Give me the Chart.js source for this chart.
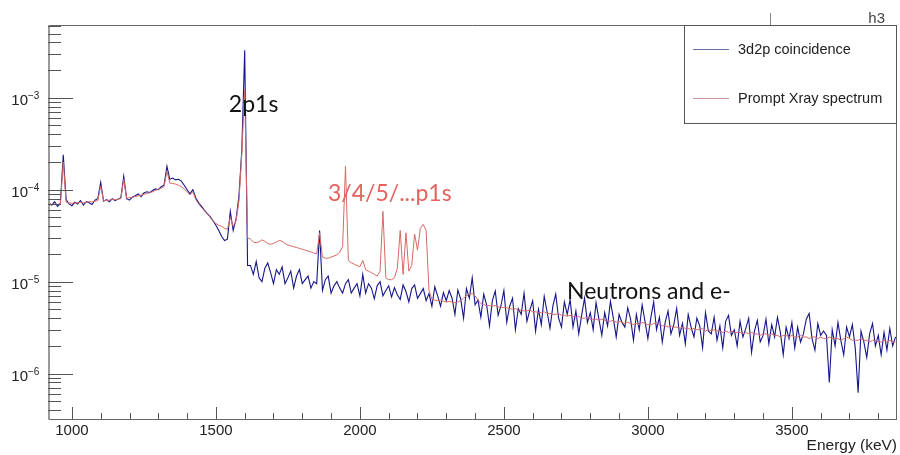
<!DOCTYPE html>
<html>
<head>
<meta charset="utf-8">
<title>3d2p coincidence vs prompt X-ray spectrum</title>
<script src="https://cdn.jsdelivr.net/npm/chart.js@4.4.1/dist/chart.umd.min.js"></script>
<style>
  html, body { margin: 0; padding: 0; background: #fff; }
  #wrap { width: 900px; height: 455px; }
</style>
</head>
<body>
<div id="wrap"><canvas id="spectrum" width="900" height="455"></canvas></div>
<script>
// histogram binning (keV, bin centres)
const binStart = 920;
const binWidth = 10;

// 3d2p coincidence, counts in units of 1e-6
const coincidence = [
  72, 68, 74, 66, 71, 240, 78, 70, 67, 73,            // 920-1010
  70, 76, 68, 74, 72, 69, 77, 80, 120, 75,            // 1020-1110
  78, 74, 80, 76, 79, 82, 140, 80, 77, 83,            // 1120-1210
  86, 90, 84, 92, 95, 93, 98, 102, 100, 108,          // 1220-1310
  112, 180, 130, 134, 128, 130, 124, 112, 100, 90,    // 1320-1410
  100, 82, 72, 66, 60, 55, 51, 46, 41, 36,            // 1420-1510
  31, 28, 29, 58, 36, 48, 85, 270, 3300, 15,          // 1520-1610
  15, 12, 16.5, 11, 10, 14, 16, 12.5, 9.5, 13.5,      // 1620-1710
  12, 14.5, 9.5, 11, 13, 8.5, 11.5, 13.5, 9.5, 10.5,  // 1720-1810
  11.5, 8.5, 10, 9.5, 36, 8, 10.5, 11.5, 7.5, 9,      // 1820-1910
  10, 8.5, 7.5, 9.5, 10.5, 7.5, 8.5, 9.5, 7, 12,      // 1920-2010
  7.5, 9.5, 8.5, 6.5, 9, 10, 7, 8, 9, 6.8,            // 2020-2110
  8.6, 7.2, 6.4, 9.2, 7.8, 6, 8.4, 9.2, 6.6, 7.4,     // 2120-2210
  8.4, 6.2, 7.4, 5.4, 8.8, 7.0, 5.4, 7.6, 6.2, 8.0,   // 2220-2310
  6.6, 4.4, 8.1, 6.5, 4.0, 8.4, 6.6, 11.0, 5.6, 6.3,  // 2320-2410
  4.1, 7.3, 5.6, 3.3, 6.2, 7.9, 4.3, 5.5, 8.0, 3.6,   // 2420-2510
  5.4, 6.6, 3.0, 5.1, 4.4, 7.5, 3.7, 4.9, 6.2, 2.9,   // 2520-2610
  5.0, 3.4, 6.9, 4.7, 3.1, 5.4, 7.3, 4.0, 3.2, 6.0,   // 2620-2710
  4.4, 6.4, 3.2, 4.8, 2.7, 4.3, 6.6, 3.6, 4.6, 3.0,   // 2720-2810
  5.9, 3.9, 2.6, 4.6, 3.3, 6.1, 4.0, 2.5, 4.4, 3.6,   // 2820-2910
  3.2, 5.2, 3.9, 2.3, 4.4, 3.0, 5.6, 3.7, 2.4, 4.0,   // 2920-3010
  6.0, 3.0, 4.1, 2.2, 3.6, 4.8, 2.7, 3.4, 5.1, 2.6,   // 3020-3110
  3.5, 2.1, 4.4, 3.2, 2.5, 4.0, 3.3, 1.9, 4.6, 2.9,   // 3120-3210
  2.7, 4.1, 2.3, 3.3, 1.9, 3.7, 4.3, 2.6, 3.0, 2.0,   // 3220-3310
  3.7, 2.5, 3.1, 4.0, 1.7, 2.9, 3.8, 2.2, 2.6, 3.9,   // 3320-3410
  2.1, 3.4, 2.5, 4.1, 2.8, 1.6, 3.2, 2.4, 3.6, 1.9,   // 3420-3510
  3.2, 2.2, 2.7, 3.9, 4.5, 2.4, 1.8, 3.5, 2.6, 2.9,   // 3520-3610
  2.6, 0.8, 3.0, 2.0, 3.6, 2.3, 1.6, 3.2, 2.5, 3.4,   // 3620-3710
  1.9, 0.62, 2.9, 2.2, 1.5, 2.7, 3.5, 2.0, 2.6, 1.6,  // 3720-3810
  2.8, 1.8, 3.1, 2.0, 2.5                             // 3820-3860
];

// prompt X-ray spectrum, same units
const promptXray = [
  69, 68, 70, 69, 70, 200, 73, 72, 71, 72,            // 920-1010
  72, 73, 72, 73, 74, 74, 75, 76, 110, 76,            // 1020-1110
  77, 77, 78, 78, 79, 80, 130, 81, 82, 83,            // 1120-1210
  84, 86, 87, 89, 91, 93, 95, 98, 101, 104,           // 1220-1310
  108, 160, 118, 117, 115, 112, 108, 102, 95, 88,     // 1320-1410
  95, 78, 70, 64, 59, 55, 50, 46, 43, 41,             // 1420-1510
  40, 38, 37, 50, 40, 46, 75, 250, 1200, 30,          // 1520-1610
  29, 27, 26.5, 27, 28.5, 27.5, 26, 25.5, 26, 27,     // 1620-1710
  28, 27.5, 26, 25, 24.5, 24, 23.5, 23, 22.5, 22,     // 1720-1810
  21.5, 21, 20.5, 20, 34, 18.5, 18, 18, 18.5, 19,     // 1820-1910
  19.5, 21, 24, 180, 17, 16, 15.5, 15, 14.5, 17,      // 1920-2010
  13.5, 13, 12.5, 12, 11.5, 13, 58, 11, 10.5, 10.5,   // 2020-2110
  11, 14, 36, 12, 34, 13, 15, 33, 22, 38,             // 2120-2210
  42, 36, 8, 6.4, 6.3, 6.2, 6.3, 6.1, 6.0, 6.1,       // 2220-2310
  6.0, 5.9, 6.0, 6.2, 6.6, 7.0, 7.3, 7.4, 7.0, 6.3,   // 2320-2410
  5.8, 5.6, 5.5, 5.5, 5.4, 5.5, 5.3, 5.3, 5.2, 5.2,   // 2420-2510
  5.1, 5.0, 5.1, 4.9, 4.9, 4.8, 4.8, 4.9, 4.7, 4.7,   // 2520-2610
  4.6, 4.6, 4.7, 4.5, 4.5, 4.4, 4.4, 4.5, 4.3, 4.3,   // 2620-2710
  4.2, 4.3, 4.2, 4.1, 4.2, 4.0, 4.0, 4.1, 3.9, 3.9,   // 2720-2810
  3.9, 3.8, 3.9, 3.8, 3.7, 3.7, 3.8, 3.6, 3.7, 3.6,   // 2820-2910
  3.5, 3.6, 3.5, 3.4, 3.5, 3.4, 3.6, 3.5, 3.4, 3.4,   // 2920-3010
  3.5, 3.6, 3.4, 3.3, 3.3, 3.2, 3.3, 3.2, 3.2, 3.1,   // 3020-3110
  3.2, 3.1, 3.1, 3.0, 3.1, 3.0, 3.0, 3.1, 2.9, 3.0,   // 3120-3210
  2.9, 3.0, 2.9, 2.9, 2.8, 2.9, 2.8, 2.9, 2.8, 2.8,   // 3220-3310
  2.8, 2.7, 2.8, 2.7, 2.8, 2.7, 2.7, 2.6, 2.7, 2.7,   // 3320-3410
  2.6, 2.7, 2.6, 2.6, 2.5, 2.6, 2.6, 2.5, 2.6, 2.5,   // 3420-3510
  2.5, 2.6, 2.5, 2.5, 2.4, 2.5, 2.5, 2.4, 2.5, 2.4,   // 3520-3610
  2.4, 2.5, 2.4, 2.4, 2.4, 2.3, 2.4, 2.5, 2.4, 2.3,   // 3620-3710
  2.3, 2.3, 2.4, 2.3, 2.3, 2.2, 2.3, 2.3, 2.2, 2.2,   // 3720-3810
  2.3, 2.2, 2.3, 2.2, 2.2                             // 3820-3860
];

// axis ticks
const xMajorTicks = [1000, 1500, 2000, 2500, 3000, 3500];
const xMinorTicks = [1000, 1100, 1200, 1300, 1400, 1500, 1600, 1700, 1800, 1900,
  2000, 2100, 2200, 2300, 2400, 2500, 2600, 2700, 2800, 2900,
  3000, 3100, 3200, 3300, 3400, 3500, 3600, 3700, 3800];
const yDecades = [1e-7, 1e-6, 1e-5, 1e-4, 1e-3];
const yLabelExponents = ['\u22126', '\u22125', '\u22124', '\u22123'];
const yLabelDecades = [1e-6, 1e-5, 1e-4, 1e-3];

// text annotations placed in data coordinates (keV, counts)
const notes = [
  { text: '2p1s', energy: 1545, value: 7.0e-4, color: '#111' },
  { text: '3/4/5/...p1s', energy: 1889, value: 7.6e-5, color: '#e5625e' },
  { text: 'Neutrons and e-', energy: 2719, value: 6.5e-6, color: '#111' }
];

const SANS = '"Liberation Sans", Arial, Helvetica, sans-serif';
const NOTE_FONT = 'Lato, "Open Sans", sans-serif';

function toPoints(values) {
  return values.map((v, i) => ({ x: binStart + i * binWidth, y: v * 1e-6 }));
}

const rootStyle = {
  id: 'rootStyle',
  afterDraw(chart) {
    const { ctx, chartArea: a, scales: { x, y } } = chart;
    ctx.save();

    // frame
    ctx.strokeStyle = '#666';
    ctx.lineWidth = 1;
    ctx.beginPath();
    ctx.moveTo(a.left, a.top + 0.5); ctx.lineTo(a.right, a.top + 0.5);
    ctx.moveTo(a.right - 0.5, a.top); ctx.lineTo(a.right - 0.5, a.bottom);
    ctx.moveTo(a.left, a.bottom + 0.5); ctx.lineTo(a.right, a.bottom + 0.5);
    ctx.stroke();
    ctx.strokeStyle = '#999';
    ctx.lineWidth = 2;
    ctx.beginPath();
    ctx.moveTo(a.left + 1, a.top); ctx.lineTo(a.left + 1, a.bottom + 1);
    ctx.stroke();

    // y ticks (inside)
    ctx.strokeStyle = '#555';
    ctx.lineWidth = 1;
    ctx.beginPath();
    yDecades.forEach(d => {
      for (let m = 1; m <= 9; m++) {
        const v = m * d;
        if (v < y.min || v > y.max) continue;
        const py = Math.round(y.getPixelForValue(v)) + 0.5;
        ctx.moveTo(a.left, py);
        ctx.lineTo(a.left + (m === 1 ? 25 : 13), py);
      }
    });
    // x ticks (inside)
    xMinorTicks.forEach(t => {
      const px = Math.round(x.getPixelForValue(t)) + 0.5;
      ctx.moveTo(px, a.bottom);
      ctx.lineTo(px, a.bottom - (xMajorTicks.includes(t) ? 12 : 6));
    });
    ctx.stroke();

    // y labels 10^n
    ctx.fillStyle = '#222';
    yLabelDecades.forEach((d, i) => {
      const py = y.getPixelForValue(d);
      ctx.font = '15px ' + SANS;
      ctx.textAlign = 'right';
      ctx.textBaseline = 'alphabetic';
      ctx.fillText('10', a.left - 20, py + 7);
      ctx.font = '10px ' + SANS;
      ctx.textAlign = 'left';
      ctx.fillText(yLabelExponents[i], a.left - 20, py + 1);
    });

    // annotations
    ctx.font = '23px ' + NOTE_FONT;
    ctx.textAlign = 'left';
    ctx.textBaseline = 'alphabetic';
    notes.forEach(n => {
      ctx.fillStyle = n.color;
      ctx.fillText(n.text, x.getPixelForValue(n.energy), y.getPixelForValue(n.value));
    });

    // legend box
    const bw = 213, bh = 98;
    const bx = a.right - bw, by = a.top;
    ctx.fillStyle = '#fff';
    ctx.fillRect(bx, by, bw, bh);
    ctx.strokeStyle = '#555';
    ctx.lineWidth = 1;
    ctx.strokeRect(bx + 0.5, by + 0.5, bw - 1, bh);
    ctx.font = '14.5px ' + SANS;
    ctx.textBaseline = 'middle';
    chart.data.datasets.forEach((ds, i) => {
      const ly = Math.round(by + 24 + i * 49) + 0.5;
      ctx.strokeStyle = ds.legendColor;
      ctx.beginPath();
      ctx.moveTo(bx + 9, ly);
      ctx.lineTo(bx + 45, ly);
      ctx.stroke();
      ctx.fillStyle = '#222';
      ctx.fillText(ds.label, bx + 54, ly);
    });

    // stats box remnant
    ctx.strokeStyle = '#888';
    ctx.beginPath();
    ctx.moveTo(770.5, a.top - 12); ctx.lineTo(770.5, a.top);
    ctx.stroke();
    ctx.fillStyle = '#444';
    ctx.font = '15px ' + SANS;
    ctx.textAlign = 'right';
    ctx.textBaseline = 'alphabetic';
    ctx.fillText('h3', a.right - 12, a.top - 2);

    ctx.restore();
  }
};

new Chart(document.getElementById('spectrum').getContext('2d'), {
  type: 'line',
  data: {
    datasets: [
      {
        label: '3d2p coincidence',
        data: toPoints(coincidence),
        borderColor: '#16168a',
        legendColor: '#6a70a4',
        borderWidth: 1.1,
        pointRadius: 0,
        tension: 0,
        order: 1
      },
      {
        label: 'Prompt Xray spectrum',
        data: toPoints(promptXray),
        borderColor: '#d66a64',
        legendColor: '#c99595',
        borderWidth: 1,
        pointRadius: 0,
        tension: 0,
        order: 0
      }
    ]
  },
  options: {
    responsive: false,
    animation: false,
    devicePixelRatio: 1,
    layout: { padding: { left: 48, top: 25, right: 3, bottom: 0 } },
    plugins: { legend: { display: false }, tooltip: { enabled: false } },
    scales: {
      x: {
        type: 'linear',
        min: 917,
        max: 3865,
        grid: { display: false, drawTicks: false },
        border: { display: false },
        afterBuildTicks(scale) {
          scale.ticks = xMajorTicks.map(v => ({ value: v }));
        },
        ticks: {
          autoSkip: false,
          maxRotation: 0,
          padding: 3,
          color: '#222',
          font: { family: SANS, size: 15 },
          callback: v => String(v)
        },
        title: {
          display: true,
          text: 'Energy (keV)',
          align: 'end',
          color: '#222',
          font: { family: SANS, size: 15.5 },
          padding: { top: 0, bottom: 0 }
        },
        afterFit(scale) { scale.height = 36; }
      },
      y: {
        type: 'logarithmic',
        display: false,
        min: 3.2e-7,
        max: 6.2e-3
      }
    }
  },
  plugins: [rootStyle]
});
</script>
</body>
</html>
